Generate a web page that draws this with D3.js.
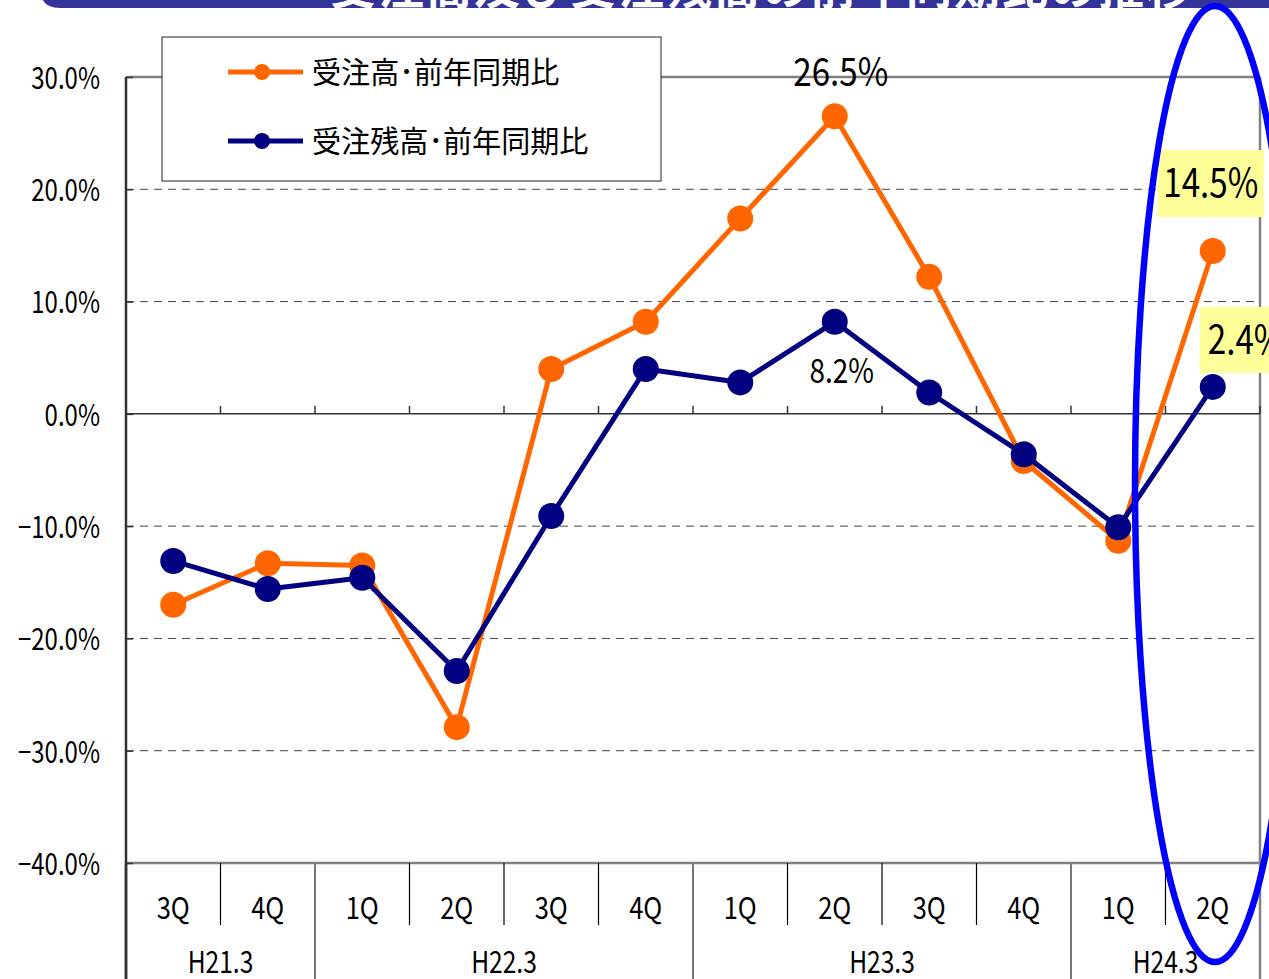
<!DOCTYPE html>
<html>
<head>
<meta charset="utf-8">
<script src="https://cdn.jsdelivr.net/npm/d3@7"></script>
<style>
  body { margin: 0; background: #fff; }
  svg { display: block; }
  .num { font-family: "Noto Sans CJK JP", "Noto Sans", sans-serif; }
  .jp { font-family: "Noto Sans CJK JP", sans-serif; }
</style>
</head>
<body>
<svg id="chart" width="1269" height="979"></svg>
<script>
// quarters along the x axis and the fiscal years they belong to
const quarters = ["3Q", "4Q", "1Q", "2Q", "3Q", "4Q", "1Q", "2Q", "3Q", "4Q", "1Q", "2Q"];
const yearLabels = ["H21.3", "H22.3", "H23.3", "H24.3"];
const yearSpans = [2, 4, 4, 2];

// year-on-year change, %
const ordersYoY = [-17.0, -13.3, -13.5, -27.9, 4.0, 8.2, 17.4, 26.5, 12.2, -4.2, -11.3, 14.5];
const backlogYoY = [-13.1, -15.6, -14.6, -22.9, -9.1, 4.0, 2.8, 8.2, 1.9, -3.6, -10.1, 2.4];

const seriesNames = ["受注高･前年同期比", "受注残高･前年同期比"];
const yTicks = [30, 20, 10, 0, -10, -20, -30, -40];

const width = 1269, height = 979;
const margin = { top: 77, right: 9, bottom: 116, left: 126 };
const orange = "#ff6600", navy = "#000080";

const svg = d3.select("#chart");

// squeeze glyphs horizontally, the source font is a narrow one
const condense = (sel, f) => sel.each(function () {
  const w = this.getComputedTextLength();
  this.setAttribute("textLength", w * f);
  this.setAttribute("lengthAdjust", "spacingAndGlyphs");
});

// title band, mostly cut off at the top of the page
svg.append("path")
  .attr("d", "M40,-40 H1269 V8 H60 Q40,8 40,-12 Z")
  .attr("fill", "#333399");
svg.append("text")
  .attr("class", "jp")
  .attr("x", 330).attr("y", 4)
  .attr("fill", "#fff")
  .attr("font-size", 46)
  .attr("font-weight", "bold")
  .attr("letter-spacing", 2)
  .text("受注高及び受注残高の前年同期比の推移");

const x = d3.scaleBand()
  .domain(d3.range(quarters.length))
  .range([margin.left, width - margin.right])
  .padding(0);

const y = d3.scaleLinear()
  .domain([-40, 30])
  .range([height - margin.bottom, margin.top]);

const cx = (i) => x(i) + x.bandwidth() / 2;
const x0 = margin.left, x1 = width - margin.right;

// gridlines
svg.append("g")
  .selectAll("line")
  .data(yTicks.filter((t) => t !== 30 && t !== -40 && t !== 0))
  .join("line")
  .attr("x1", x0).attr("x2", x1)
  .attr("y1", (d) => y(d)).attr("y2", (d) => y(d))
  .attr("stroke", "#444")
  .attr("stroke-width", 1)
  .attr("stroke-dasharray", "8,6");

// frame: top, right, bottom
svg.append("line").attr("x1", x0).attr("x2", x1).attr("y1", y(30)).attr("y2", y(30))
  .attr("stroke", "#808080").attr("stroke-width", 2.5);
svg.append("line").attr("x1", x1).attr("x2", x1).attr("y1", y(30)).attr("y2", height)
  .attr("stroke", "#808080").attr("stroke-width", 2.5);
svg.append("line").attr("x1", x0).attr("x2", x1).attr("y1", y(-40)).attr("y2", y(-40))
  .attr("stroke", "#808080").attr("stroke-width", 2.5);

// zero line with quarter ticks above it
svg.append("line").attr("x1", x0).attr("x2", x1).attr("y1", y(0)).attr("y2", y(0))
  .attr("stroke", "#333").attr("stroke-width", 1.5);
svg.append("g")
  .selectAll("line")
  .data(d3.range(1, quarters.length + 1))
  .join("line")
  .attr("x1", (i) => x0 + i * x.bandwidth()).attr("x2", (i) => x0 + i * x.bandwidth())
  .attr("y1", y(0) - 8).attr("y2", y(0))
  .attr("stroke", "#333").attr("stroke-width", 1.5);

// y axis
const yAxis = d3.axisLeft(y)
  .tickValues(yTicks)
  .tickSize(-7)
  .tickPadding(26)
  .tickFormat((d) => d3.format(".1f")(d) + "%");

svg.append("g")
  .attr("transform", `translate(${x0},0)`)
  .call(yAxis)
  .call((g) => g.select(".domain").attr("stroke", "#333").attr("stroke-width", 2.5))
  .call((g) => g.selectAll(".tick line").attr("stroke", "#333").attr("stroke-width", 1.5))
  .call((g) => g.selectAll(".tick text")
    .attr("class", "num")
    .attr("font-size", 30)
    .attr("fill", "#000")
    .attr("dy", "0.38em")
    .call(condense, 0.8));
svg.select(".domain").attr("d", `M0,${y(30)}V${height}`);

// category table below the plot
const tableTop = y(-40);
const qRowBottom = 925;
const yearStarts = d3.cumsum([0].concat(yearSpans)).slice(0, -1);

svg.append("g")
  .selectAll("line")
  .data(d3.range(1, quarters.length).filter((i) => !yearStarts.includes(i)))
  .join("line")
  .attr("x1", (i) => x0 + i * x.bandwidth()).attr("x2", (i) => x0 + i * x.bandwidth())
  .attr("y1", tableTop).attr("y2", qRowBottom)
  .attr("stroke", "#000").attr("stroke-width", 1.2);

svg.append("g")
  .selectAll("line")
  .data(yearStarts)
  .join("line")
  .attr("x1", (i) => x0 + i * x.bandwidth()).attr("x2", (i) => x0 + i * x.bandwidth())
  .attr("y1", tableTop).attr("y2", height)
  .attr("stroke", (i) => i === 0 ? "#333" : "#777")
  .attr("stroke-width", (i) => i === 0 ? 2.5 : 2);

svg.append("g")
  .selectAll("text")
  .data(quarters)
  .join("text")
  .attr("class", "num")
  .attr("x", (d, i) => cx(i))
  .attr("y", 919)
  .attr("text-anchor", "middle")
  .attr("font-size", 30)
  .text((d) => d)
  .call(condense, 0.85);

svg.append("g")
  .selectAll("text")
  .data(yearLabels)
  .join("text")
  .attr("class", "num")
  .attr("x", (d, i) => x0 + (yearStarts[i] + yearSpans[i] / 2) * x.bandwidth())
  .attr("y", 973)
  .attr("text-anchor", "middle")
  .attr("font-size", 30)
  .text((d) => d)
  .call(condense, 0.82);

// series
const line = d3.line().x((d, i) => cx(i)).y((d) => y(d));
const series = [
  { name: seriesNames[0], values: ordersYoY, color: orange },
  { name: seriesNames[1], values: backlogYoY, color: navy }
];

series.forEach((s) => {
  const g = svg.append("g");
  g.append("path")
    .attr("d", line(s.values))
    .attr("fill", "none")
    .attr("stroke", s.color)
    .attr("stroke-width", 5)
    .attr("stroke-linejoin", "round");
  g.selectAll("circle")
    .data(s.values)
    .join("circle")
    .attr("cx", (d, i) => cx(i))
    .attr("cy", (d) => y(d))
    .attr("r", 13)
    .attr("fill", s.color);
});

// value labels
svg.append("text")
  .attr("class", "num")
  .attr("x", cx(7) + 6).attr("y", y(ordersYoY[7]) - 30)
  .attr("text-anchor", "middle")
  .attr("font-size", 39)
  .text(ordersYoY[7].toFixed(1) + "%")
  .call(condense, 0.85);

svg.append("text")
  .attr("class", "num")
  .attr("x", cx(7) + 7).attr("y", y(backlogYoY[7]) + 61)
  .attr("text-anchor", "middle")
  .attr("font-size", 34)
  .text(backlogYoY[7].toFixed(1) + "%")
  .call(condense, 0.82);

// highlighted latest values
svg.append("rect")
  .attr("x", cx(11) - 55).attr("y", y(ordersYoY[11]) - 101)
  .attr("width", 106).attr("height", 67)
  .attr("fill", "#ffff99");
svg.append("text")
  .attr("class", "num")
  .attr("x", cx(11) - 2).attr("y", y(ordersYoY[11]) - 54)
  .attr("text-anchor", "middle")
  .attr("font-size", 40)
  .text(ordersYoY[11].toFixed(1) + "%")
  .call(condense, 0.83);

svg.append("rect")
  .attr("x", cx(11) - 13).attr("y", y(backlogYoY[11]) - 80)
  .attr("width", 80).attr("height", 66)
  .attr("fill", "#ffff99");
svg.append("text")
  .attr("class", "num")
  .attr("x", cx(11) - 5).attr("y", y(backlogYoY[11]) - 33)
  .attr("font-size", 40)
  .text(backlogYoY[11].toFixed(1) + "%")
  .call(condense, 0.83);

// legend
const legend = svg.append("g").attr("transform", "translate(162,37)");
legend.append("rect")
  .attr("width", 499).attr("height", 144)
  .attr("fill", "#fff")
  .attr("stroke", "#222")
  .attr("stroke-width", 1);
series.forEach((s, i) => {
  const ly = 35 + i * 69;
  legend.append("line")
    .attr("x1", 66).attr("x2", 141).attr("y1", ly).attr("y2", ly)
    .attr("stroke", s.color).attr("stroke-width", 5);
  legend.append("circle")
    .attr("cx", 100).attr("cy", ly).attr("r", 8)
    .attr("fill", s.color);
  legend.append("text")
    .attr("class", "jp")
    .attr("x", 150).attr("y", ly + 11)
    .attr("font-size", 30)
    .text(s.name)
    .call(condense, 0.97);
});

// emphasis ellipse around the latest quarter
svg.append("ellipse")
  .attr("cx", 1215).attr("cy", 484)
  .attr("rx", 80).attr("ry", 478)
  .attr("fill", "none")
  .attr("stroke", "#0000ff")
  .attr("stroke-width", 6.5);
</script>
</body>
</html>
